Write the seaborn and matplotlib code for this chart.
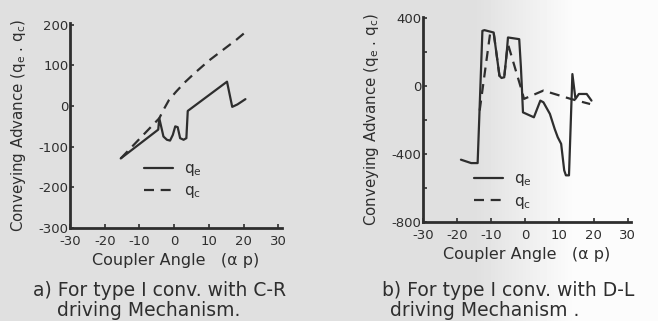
import numpy as np
import pandas as pd
import matplotlib
matplotlib.use("Agg")
import matplotlib.pyplot as plt
import seaborn as sns

# ---- data: panel a (C-R driving mechanism) ----
a_qe_x = [-15.4, -4.6, -4.3, -3.1, -2.1, -1.2, -0.4, 0.3, 1.0, 1.7, 2.7, 3.5, 3.9, 15.2, 16.7, 18.2, 20.5]
a_qe_y = [-129, -58, -30, -75, -83, -85, -71, -50, -52, -79, -83, -79, -12, 60, -2, 4, 17]
a_qc_x = [-15.4, -4.3, -3.0, -1.5, 0.5, 3.0, 6.0, 10.0, 14.0, 18.0, 21.2]
a_qc_y = [-129, -30, -8, 15, 35, 58, 82, 112, 138, 164, 187]

# ---- data: panel b (D-L driving mechanism) ----
b_qe_x = [-18.9, -15.9, -14.0, -12.6, -12.0, -9.3, -7.6, -7.0, -6.2, -5.5, -5.1, -1.8,
          -1.3, -1.0, -0.7, 2.5, 4.4, 5.3, 7.2, 8.6, 9.5, 10.5, 11.4, 11.9, 12.8,
          13.8, 14.7, 15.7, 18.0, 19.4]
b_qe_y = [-435, -455, -455, 322, 326, 312, 58, 45, 49, 185, 283, 273,
          107, -20, -157, -186, -88, -98, -166, -254, -303, -342, -498, -527, -527,
          68, -78, -49, -49, -88]
b_qc_x = [-13.4, -10.3, -9.3, -7.6, -7.0, -6.2, -5.5, -5.1, -0.9, -0.4, 5.3, 13.3, 19.0]
b_qc_y = [-146, 312, 312, 58, 45, 49, 185, 244, -40, -78, -29, -78, -108]

x_ticks = [-30, -20, -10, 0, 10, 20, 30]
a_y_ticks = [200, 100, 0, -100, -200, -300]
b_y_ticks = [400, 200, 0, -200, -400, -600, -800]
b_y_labels = ["400", "", "0", "", "-400", "", "-800"]

ylabel_text = "Conveying Advance (q$_e$ . q$_c$)"
xlabel_text = "Coupler Angle   (\u03b1 p)"
captions = [("a) For type I conv. with C-R", "driving Mechanism."),
            ("b) For type I conv. with D-L", "driving Mechanism .")]

sns.set_theme(style="ticks")
plt.rcParams["font.family"] = ["DejaVu Sans"]
plt.rcParams["axes.unicode_minus"] = False
plt.rcParams["mathtext.default"] = "regular"

ink = "#2e2e2e"
fig = plt.figure(figsize=(6.58, 3.21), dpi=100)

# paper-like background, fading lighter toward the right edge
bg = fig.add_axes([0, 0, 1, 1], zorder=-10)
cols = np.linspace(0, 1, 658)
shade = 0.875 + 0.11 * np.clip((cols - 0.72) / 0.15, 0, 1)
img = np.tile(shade, (321, 1))
bg.imshow(img, cmap="gray", vmin=0, vmax=1, aspect="auto", extent=[0, 1, 0, 1])
bg.axis("off")

ax_a = fig.add_axes([0.1064, 0.290, 0.322, 0.639])
ax_b = fig.add_axes([0.643, 0.309, 0.316, 0.639])

def draw_panel(ax, qe_x, qe_y, qc_x, qc_y, legend_anchor, ylabelpad):
    ax.set_facecolor("none")
    sns.lineplot(x=qe_x, y=qe_y, ax=ax, sort=False, estimator=None,
                 color=ink, lw=1.6, label="q$_e$")
    sns.lineplot(x=qc_x, y=qc_y, ax=ax, sort=False, estimator=None,
                 color=ink, lw=1.6, label="q$_c$")
    ax.lines[1].set_dashes([4.5, 3])
    sns.despine(ax=ax)
    for s in ("left", "bottom"):
        ax.spines[s].set_linewidth(2.0)
        ax.spines[s].set_color(ink)
    ax.tick_params(direction="in", length=3, width=1.2, color=ink,
                   labelcolor=ink, labelsize=9.5)
    ax.tick_params(axis="y", pad=1)
    ax.tick_params(axis="x", pad=5)
    ax.set_xticks(x_ticks)
    ax.set_xticklabels([str(t) for t in x_ticks])
    ax.set_ylabel(ylabel_text, fontsize=10.8, color=ink, labelpad=ylabelpad)
    ax.set_xlabel(xlabel_text, fontsize=11.5, color=ink, labelpad=4)
    leg = ax.legend(loc="center left", bbox_to_anchor=legend_anchor, frameon=False,
                    fontsize=11, handlelength=1.9, handletextpad=0.7,
                    labelspacing=0.35, borderpad=0)
    for t in leg.get_texts():
        t.set_color(ink)

draw_panel(ax_a, a_qe_x, a_qe_y, a_qc_x, a_qc_y, (0.315, 0.23), 8)
ax_a.set_xlim(-30, 31)
ax_a.set_ylim(-300, 205)
ax_a.set_yticks(a_y_ticks)
ax_a.set_yticklabels([str(t) for t in a_y_ticks])

draw_panel(ax_b, b_qe_x, b_qe_y, b_qc_x, b_qc_y, (0.21, 0.15), 8)
ax_b.set_xlim(-30, 31)
ax_b.set_ylim(-800, 405)
ax_b.set_yticks(b_y_ticks)
ax_b.set_yticklabels(b_y_labels)

for (l1, l2), (x1, x2) in zip(captions, [(0.243, 0.226), (0.772, 0.736)]):
    fig.text(x1, 1 - 291 / 321, l1, ha="center", va="center", fontsize=13.5, color=ink)
    fig.text(x2, 1 - 311 / 321, l2, ha="center", va="center", fontsize=13.5, color=ink)

fig.savefig("out.png", dpi=100)
